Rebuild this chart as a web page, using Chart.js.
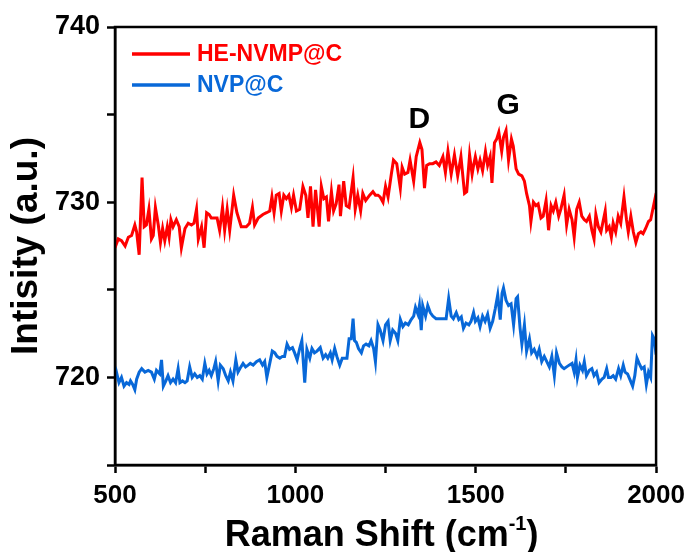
<!DOCTYPE html>
<html>
<head>
<meta charset="utf-8">
<script src="https://cdn.jsdelivr.net/npm/chart.js@4"></script>
<style>
  html, body { margin: 0; padding: 0; background: #fff; }
  canvas { display: block; }
</style>
</head>
<body>
<canvas id="raman" width="692" height="552"></canvas>
<script>
// series names + colours
const seriesNames = ['HE-NVMP@C', 'NVP@C'];
const seriesColors = ['#ff0000', '#0868d8'];

// HE-NVMP@C
const ramanRed = [500, 509, 518, 528, 537, 546, 555, 560, 567, 575, 581, 587, 594, 601, 606, 612, 620, 626, 632, 638,
  645, 650, 655, 661, 670, 678, 684, 694, 703, 712, 719, 726, 731, 740, 747, 754, 761, 767, 775, 783,
  790, 798, 804, 811, 818, 829, 838, 850, 864, 873, 881, 887, 897, 910, 920, 929, 935, 941, 947, 955,
  961, 968, 975, 982, 989, 995, 1003, 1012, 1021, 1029, 1035, 1042, 1049, 1056, 1066, 1072, 1079, 1086, 1092, 1100,
  1106, 1113, 1121, 1125, 1134, 1141, 1149, 1160, 1166, 1173, 1181, 1187, 1195, 1206, 1215, 1222, 1229, 1235, 1243, 1250,
  1257, 1266, 1272, 1281, 1291, 1296, 1303, 1312, 1318, 1328, 1335, 1340, 1345, 1351, 1358, 1364, 1372, 1381, 1390, 1399,
  1409, 1416, 1423, 1432, 1441, 1450, 1459, 1469, 1475, 1483, 1490, 1494, 1499, 1506, 1512, 1519, 1527, 1533, 1540, 1545,
  1552, 1558, 1564, 1572, 1577, 1584, 1591, 1599, 1604, 1612, 1619, 1628, 1635, 1641, 1649, 1653, 1660, 1667, 1673, 1681,
  1687, 1695, 1702, 1709, 1715, 1722, 1730, 1736, 1745, 1752, 1759, 1767, 1773, 1780, 1787, 1794, 1801, 1807, 1815, 1822,
  1828, 1833, 1840, 1847, 1853, 1859, 1863, 1870, 1876, 1881, 1888, 1895, 1902, 1911, 1918, 1923, 1930, 1937, 1944, 1951,
  1958, 1964, 1971, 1979, 1985, 1992, 1996, 2000];
const intensityRed = [727.4, 727.9, 727.8, 727.5, 728.0, 728.1, 728.7, 728.3, 727.0, 731.4, 728.6, 728.7, 729.6, 727.9, 728.1, 729.7, 728.7, 727.7, 728.5, 727.8,
  728.6, 728.0, 729.0, 728.6, 729.0, 728.6, 727.4, 728.5, 728.8, 728.7, 728.8, 729.6, 727.9, 728.6, 727.4, 729.4, 729.3, 729.1, 729.1, 729.1,
  728.4, 729.7, 728.4, 729.6, 728.4, 730.4, 729.4, 728.6, 728.6, 728.8, 729.7, 728.7, 729.1, 729.3, 729.4, 729.5, 730.3, 729.4, 730.4, 730.5,
  729.5, 730.4, 730.2, 730.4, 729.7, 730.4, 729.5, 729.6, 730.9, 730.4, 729.1, 730.9, 728.6, 730.7, 728.6, 730.9, 730.2, 730.3, 728.9, 730.6,
  729.5, 729.9, 731.0, 729.2, 731.2, 729.8, 729.7, 731.4, 729.6, 730.4, 729.5, 730.5, 730.1, 730.4, 730.6, 730.4, 730.4, 730.3, 730.0, 730.9,
  730.3, 731.6, 732.4, 732.2, 730.8, 732.0, 731.6, 731.7, 732.4, 731.2, 732.6, 733.0, 733.4, 733.0, 730.8, 732.1, 732.2, 732.2, 732.3, 732.1,
  732.6, 731.7, 732.9, 731.6, 732.7, 731.5, 732.6, 730.5, 730.6, 732.7, 731.6, 732.1, 732.6, 731.9, 732.4, 731.8, 732.9, 732.1, 732.6, 731.1,
  733.4, 733.6, 734.0, 732.9, 733.7, 734.1, 732.4, 733.6, 733.2, 731.9, 731.6, 731.5, 731.2, 730.5, 729.8, 728.9, 730.0, 729.8, 729.9, 729.1,
  729.2, 730.1, 728.4, 729.8, 729.5, 730.0, 729.2, 729.6, 730.4, 728.7, 729.6, 729.0, 728.0, 729.6, 730.0, 729.2, 729.0, 728.9, 729.2, 728.4,
  727.9, 729.3, 728.6, 728.3, 728.9, 729.5, 728.4, 728.6, 728.0, 728.8, 728.3, 729.2, 728.8, 730.3, 729.0, 728.3, 729.2, 728.3, 727.7, 728.2,
  728.3, 728.2, 728.5, 728.9, 729.0, 729.7, 730.1, 729.6];

// NVP@C
const ramanBlue = [500, 504, 511, 518, 525, 532, 539, 543, 549, 555, 560, 567, 574, 583, 592, 601, 609, 615, 624, 629,
  634, 641, 647, 654, 661, 668, 675, 680, 687, 694, 700, 707, 714, 721, 728, 735, 742, 749, 755, 761,
  767, 774, 779, 786, 792, 800, 807, 814, 820, 827, 835, 841, 849, 855, 862, 869, 875, 883, 892, 901,
  909, 915, 921, 929, 936, 943, 949, 957, 964, 970, 977, 984, 992, 998, 1005, 1012, 1018, 1026, 1032, 1040,
  1046, 1053, 1060, 1069, 1077, 1084, 1090, 1097, 1102, 1109, 1115, 1123, 1130, 1137, 1143, 1149, 1155, 1160, 1164, 1169,
  1175, 1183, 1189, 1196, 1204, 1210, 1217, 1222, 1229, 1235, 1243, 1250, 1257, 1263, 1270, 1278, 1284, 1291, 1298, 1305,
  1313, 1321, 1328, 1333, 1340, 1344, 1349, 1353, 1361, 1367, 1374, 1381, 1390, 1399, 1409, 1418, 1425, 1432, 1438, 1446,
  1453, 1460, 1466, 1473, 1481, 1487, 1494, 1499, 1506, 1512, 1519, 1526, 1533, 1540, 1547, 1554, 1561, 1568, 1573, 1577,
  1584, 1591, 1598, 1605, 1612, 1616, 1623, 1628, 1635, 1641, 1649, 1655, 1662, 1670, 1676, 1683, 1690, 1697, 1704, 1711,
  1718, 1724, 1732, 1739, 1745, 1752, 1759, 1767, 1773, 1778, 1782, 1789, 1796, 1801, 1807, 1815, 1822, 1828, 1835, 1842,
  1850, 1856, 1863, 1868, 1875, 1881, 1888, 1896, 1902, 1909, 1914, 1921, 1927, 1935, 1941, 1947, 1953, 1960, 1967, 1973,
  1979, 1985, 1990, 1995, 2000];
const intensityBlue = [720.0, 720.3, 719.7, 720.0, 719.5, 719.7, 719.6, 719.8, 719.6, 719.3, 719.9, 720.3, 720.5, 720.3, 720.4, 720.3, 719.9, 720.4, 720.2, 721.0,
  719.5, 719.8, 720.1, 719.7, 719.9, 719.7, 720.5, 719.7, 719.8, 719.7, 719.8, 720.6, 720.0, 720.2, 720.0, 720.1, 719.9, 720.8, 720.2, 720.4,
  720.1, 720.5, 720.9, 719.8, 720.7, 720.5, 720.1, 719.8, 720.3, 719.8, 721.0, 720.3, 720.6, 720.8, 720.6, 720.7, 720.8, 720.7, 720.9, 721.0,
  720.7, 720.9, 720.0, 720.8, 721.5, 721.4, 721.2, 721.1, 721.2, 721.2, 721.9, 721.6, 721.7, 721.4, 721.0, 721.65, 722.1, 719.7, 721.6, 721.1,
  721.65, 721.4, 721.5, 721.7, 721.1, 721.3, 721.1, 721.4, 721.0, 721.65, 721.2, 720.7, 721.1, 721.1, 721.1, 722.2, 722.2, 723.35, 722.1, 722.0,
  721.65, 721.4, 721.8, 721.9, 721.8, 722.1, 721.65, 720.9, 723.0, 722.7, 722.1, 723.0, 723.2, 722.1, 722.7, 722.5, 722.1, 723.3, 722.9, 723.1,
  723.0, 723.3, 723.5, 724.0, 723.6, 724.1, 722.7, 724.1, 723.5, 724.1, 723.7, 723.5, 723.35, 723.35, 723.35, 723.35, 724.5, 723.5, 723.35, 723.7,
  723.3, 723.45, 722.8, 723.1, 723.0, 723.2, 723.7, 723.2, 723.4, 722.9, 723.5, 723.2, 723.6, 722.8, 723.2, 723.9, 724.7, 723.3, 724.8, 725.1,
  724.4, 724.1, 724.2, 723.0, 724.5, 724.6, 722.8, 721.9, 723.0, 721.5, 722.2, 721.4, 721.6, 721.2, 721.6, 720.9, 721.2, 720.9, 720.6, 721.2,
  720.1, 721.4, 720.8, 720.6, 720.5, 720.6, 720.7, 720.8, 720.3, 721.0, 720.0, 720.7, 720.4, 720.9, 720.1, 720.4, 720.5, 720.1, 720.3, 719.7,
  719.9, 720.0, 720.5, 720.0, 720.0, 720.1, 719.9, 720.5, 720.1, 720.7, 720.3, 720.2, 719.9, 719.5, 720.1, 721.1, 720.8, 720.5, 720.6, 719.6,
  720.3, 720.0, 722.4, 722.2, 721.3];

// axis ranges and tick labels
const xMin = 500, xMax = 2000, xStep = 250;
const xLabels = [500, 1000, 1500, 2000];
const yMin = 715, yMax = 740, yStep = 5;
const yLabels = [720, 730, 740];

// peak labels
const peakNames = ['D', 'G'];
const peakX = [1344, 1590];
const peakY = [734.7, 735.5];

const FONT = "'Liberation Sans', Arial, sans-serif";
Chart.defaults.font.family = FONT;
Chart.defaults.color = '#000';

function toPoints(xs, ys) {
  return xs.map((x, i) => ({ x: x, y: ys[i] }));
}

// frame, legend, peak letters and x title with superscript
const decor = {
  id: 'decor',
  afterDatasetsDraw(chart) {
    const ctx = chart.ctx;
    const a = chart.chartArea;
    const xs = chart.scales.x, ys = chart.scales.y;
    ctx.save();

    ctx.strokeStyle = '#000';
    ctx.lineWidth = 2.5;
    ctx.strokeRect(a.left, a.top, a.right - a.left, a.bottom - a.top);

    // legend inside the plot
    ctx.font = 'bold 23px ' + FONT;
    ctx.textAlign = 'left';
    ctx.textBaseline = 'middle';
    const rows = [54, 85];
    seriesNames.forEach((name, i) => {
      ctx.strokeStyle = seriesColors[i];
      ctx.lineWidth = 3.5;
      ctx.beginPath();
      ctx.moveTo(a.left + 17, rows[i]);
      ctx.lineTo(a.left + 75, rows[i]);
      ctx.stroke();
      ctx.fillStyle = seriesColors[i];
      ctx.fillText(name, a.left + 82, rows[i] + 1);
    });

    // D / G
    ctx.fillStyle = '#000';
    ctx.font = 'bold 30px ' + FONT;
    ctx.textAlign = 'center';
    peakNames.forEach((p, i) => {
      ctx.fillText(p, xs.getPixelForValue(peakX[i]), ys.getPixelForValue(peakY[i]));
    });

    // x title
    const main = 'Raman Shift (cm';
    const sup = '-1';
    const tail = ')';
    ctx.textAlign = 'left';
    ctx.textBaseline = 'alphabetic';
    ctx.font = 'bold 36px ' + FONT;
    const wMain = ctx.measureText(main).width;
    const wTail = ctx.measureText(tail).width;
    ctx.font = 'bold 20px ' + FONT;
    const wSup = ctx.measureText(sup).width;
    let x = (a.left + a.right) / 2 - 4 - (wMain + wSup + wTail) / 2;
    const base = 546;
    ctx.font = 'bold 36px ' + FONT;
    ctx.fillText(main, x, base);
    x += wMain;
    ctx.font = 'bold 20px ' + FONT;
    ctx.fillText(sup, x, base - 16);
    x += wSup;
    ctx.font = 'bold 36px ' + FONT;
    ctx.fillText(tail, x, base);

    ctx.restore();
  }
};

new Chart(document.getElementById('raman'), {
  type: 'line',
  data: {
    datasets: [
      {
        label: seriesNames[0],
        data: toPoints(ramanRed, intensityRed),
        borderColor: seriesColors[0],
        borderWidth: 3,
        pointRadius: 0,
        tension: 0,
        fill: false,
      },
      {
        label: seriesNames[1],
        data: toPoints(ramanBlue, intensityBlue),
        borderColor: seriesColors[1],
        borderWidth: 3,
        pointRadius: 0,
        tension: 0,
        fill: false,
      },
    ],
  },
  options: {
    responsive: false,
    animation: false,
    layout: { padding: { top: 27, right: 35, left: 0, bottom: 0 } },
    plugins: {
      legend: { display: false },
      tooltip: { enabled: false },
    },
    scales: {
      x: {
        type: 'linear',
        min: xMin,
        max: xMax,
        afterFit(s) { s.height = 87; },
        ticks: {
          stepSize: xStep,
          autoSkip: false,
          maxRotation: 0,
          padding: 7,
          font: { size: 26, weight: 'bold' },
          color: '#000',
          callback: (v) => (xLabels.includes(v) ? String(v) : ''),
        },
        grid: { drawOnChartArea: false, drawTicks: true, tickLength: 8, tickWidth: 2.5, tickColor: '#000' },
        border: { display: true, color: '#000', width: 2.5 },
        title: { display: false },
      },
      y: {
        type: 'linear',
        min: yMin,
        max: yMax,
        afterFit(s) { s.width = 115; },
        ticks: {
          stepSize: yStep,
          autoSkip: false,
          padding: 7,
          font: { size: 27, weight: 'bold' },
          color: '#000',
          callback: (v) => (yLabels.includes(v) ? String(v) : ''),
        },
        grid: { drawOnChartArea: false, drawTicks: true, tickLength: 8, tickWidth: 2.5, tickColor: '#000' },
        border: { display: true, color: '#000', width: 2.5 },
        title: {
          display: true,
          text: 'Intisity (a.u.)',
          color: '#000',
          font: { size: 37, weight: 'bold', lineHeight: 1 },
          padding: { top: 8, bottom: 0 },
        },
      },
    },
  },
  plugins: [decor],
});
</script>
</body>
</html>
